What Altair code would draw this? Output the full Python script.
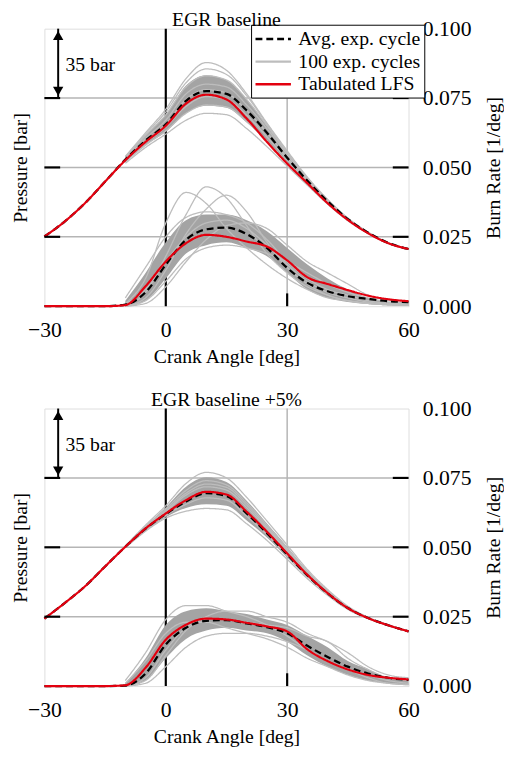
import altair as alt
import pandas as pd

SERIF = "Liberation Serif, Times New Roman, DejaVu Serif, serif"

# ---------------- data ----------------
ANGLE = [-30, -25, -20, -15, -10, -5, 0, 5, 10, 15, 20, 25, 30, 35, 40, 45, 50, 55, 60]
CYC_ANGLE = [-10, -5, 0, 5, 10, 15, 20, 25, 30, 35, 40, 45, 50, 55, 60]

TITLES = ["EGR baseline", "EGR baseline +5%"]
SERIES = ["Avg. exp. cycle", "100 exp. cycles", "Tabulated LFS"]
COLORS = ["#000000", "#bdbdbd", "#e3000f"]
Y_TICKS = [0.0, 0.025, 0.05, 0.075, 0.1]
X_TICKS = [-30, 0, 30, 60]
GRID_Y = [0.025, 0.05, 0.075]
GRID_X = [30]
ZERO_X = [0]
BAR_SPAN = [0.075, 0.100]          # 35 bar scale arrow
BAR_X = [-26.6]
BAR_LABEL = ["35 bar"]
BAR_LABEL_X = [-24.8]
BAR_LABEL_Y = [0.0870]

# --- EGR baseline ---
P1_LFS = [0.0251, 0.0305, 0.0371, 0.0449, 0.0526, 0.0592, 0.0650, 0.0730, 0.0762, 0.0745, 0.0676, 0.0592, 0.0514, 0.0443, 0.0371, 0.0311, 0.0263, 0.0227, 0.0206]
P1_AVG = [0.0251, 0.0305, 0.0371, 0.0449, 0.0528, 0.0597, 0.0655, 0.0740, 0.0775, 0.0765, 0.0705, 0.0625, 0.0535, 0.0452, 0.0378, 0.0314, 0.0265, 0.0228, 0.0206]
P1_CYCLES = [
    [0.0540, 0.0625, 0.0710, 0.0820, 0.0878, 0.0850, 0.0765, 0.0660, 0.0560, 0.0465, 0.0385, 0.0318, 0.0267, 0.0229, 0.0207],
    [0.0538, 0.0620, 0.0700, 0.0805, 0.0855, 0.0835, 0.0758, 0.0656, 0.0556, 0.0462, 0.0383, 0.0317, 0.0266, 0.0229, 0.0207],
    [0.0535, 0.0615, 0.0690, 0.0790, 0.0830, 0.0815, 0.0745, 0.0650, 0.0552, 0.0460, 0.0382, 0.0316, 0.0266, 0.0229, 0.0207],
    [0.0530, 0.0605, 0.0670, 0.0765, 0.0800, 0.0790, 0.0725, 0.0640, 0.0545, 0.0456, 0.0380, 0.0315, 0.0265, 0.0228, 0.0206],
    [0.0526, 0.0595, 0.0655, 0.0745, 0.0780, 0.0768, 0.0705, 0.0625, 0.0535, 0.0452, 0.0377, 0.0313, 0.0264, 0.0228, 0.0206],
    [0.0523, 0.0588, 0.0645, 0.0720, 0.0755, 0.0745, 0.0688, 0.0610, 0.0528, 0.0448, 0.0374, 0.0312, 0.0264, 0.0227, 0.0206],
    [0.0520, 0.0580, 0.0632, 0.0695, 0.0725, 0.0718, 0.0665, 0.0595, 0.0518, 0.0443, 0.0371, 0.0310, 0.0263, 0.0227, 0.0205],
    [0.0515, 0.0572, 0.0620, 0.0670, 0.0695, 0.0690, 0.0640, 0.0575, 0.0505, 0.0436, 0.0368, 0.0308, 0.0262, 0.0226, 0.0205],
]
P1_CORE_LO = [0.0520, 0.0582, 0.0628, 0.0695, 0.0722, 0.0715, 0.0662, 0.0592, 0.0516, 0.0442, 0.0371, 0.0310, 0.0263, 0.0227, 0.0205]
P1_CORE_HI = [0.0535, 0.0615, 0.0690, 0.0795, 0.0832, 0.0815, 0.0745, 0.0650, 0.0552, 0.0460, 0.0382, 0.0316, 0.0266, 0.0229, 0.0207]

BR1_LFS = [0, 0, 0, 0, 0.0004, 0.0072, 0.0161, 0.0227, 0.0257, 0.0250, 0.0233, 0.0215, 0.0165, 0.0104, 0.0080, 0.0058, 0.0038, 0.0025, 0.0018]
BR1_AVG = [0, 0, 0, 0, 0.0006, 0.0050, 0.0150, 0.0239, 0.0277, 0.0283, 0.0260, 0.0210, 0.0138, 0.0084, 0.0054, 0.0036, 0.0026, 0.0018, 0.0015]
BR1_CYCLES = [
    [0.001, 0.010, 0.030, 0.041, 0.037, 0.028, 0.021, 0.015, 0.010, 0.006, 0.003, 0.002, 0.001, 0.0005, 0.0003],
    [0.000, 0.005, 0.018, 0.033, 0.043, 0.039, 0.029, 0.019, 0.012, 0.007, 0.004, 0.002, 0.001, 0.0005, 0.0003],
    [0.000, 0.003, 0.013, 0.026, 0.035, 0.040, 0.034, 0.023, 0.014, 0.008, 0.004, 0.002, 0.001, 0.0005, 0.0003],
    [0.003, 0.014, 0.025, 0.032, 0.034, 0.033, 0.030, 0.024, 0.016, 0.010, 0.006, 0.004, 0.002, 0.001, 0.0005],
    [0.000, 0.001, 0.007, 0.016, 0.024, 0.029, 0.030, 0.028, 0.022, 0.016, 0.012, 0.008, 0.004, 0.002, 0.001],
    [0.000, 0.002, 0.009, 0.017, 0.021, 0.022, 0.021, 0.019, 0.016, 0.012, 0.008, 0.005, 0.003, 0.0015, 0.0008],
    [0.001, 0.006, 0.016, 0.025, 0.030, 0.031, 0.028, 0.022, 0.015, 0.009, 0.005, 0.003, 0.0015, 0.0008, 0.0004],
]
BR1_CORE_LO = [0.000, 0.002, 0.010, 0.019, 0.022, 0.023, 0.021, 0.018, 0.012, 0.006, 0.003, 0.0015, 0.0008, 0.0004, 0.0002]
BR1_CORE_HI = [0.002, 0.012, 0.023, 0.031, 0.033, 0.033, 0.031, 0.027, 0.021, 0.015, 0.010, 0.006, 0.003, 0.0015, 0.0008]

# --- EGR baseline +5% ---
P2_LFS = [0.0243, 0.0299, 0.0359, 0.0431, 0.0502, 0.0568, 0.0622, 0.0670, 0.0700, 0.0690, 0.0628, 0.0556, 0.0478, 0.0401, 0.0335, 0.0281, 0.0245, 0.0219, 0.0197]
P2_AVG = [0.0243, 0.0299, 0.0359, 0.0431, 0.0502, 0.0567, 0.0620, 0.0665, 0.0695, 0.0685, 0.0622, 0.0551, 0.0474, 0.0399, 0.0334, 0.0281, 0.0245, 0.0219, 0.0197]
P2_CYCLES = [
    [0.0505, 0.0580, 0.0650, 0.0730, 0.0770, 0.0750, 0.0680, 0.0595, 0.0508, 0.0420, 0.0348, 0.0288, 0.0248, 0.0221, 0.0199],
    [0.0504, 0.0575, 0.0638, 0.0705, 0.0740, 0.0725, 0.0660, 0.0580, 0.0497, 0.0413, 0.0343, 0.0286, 0.0247, 0.0220, 0.0198],
    [0.0503, 0.0572, 0.0632, 0.0695, 0.0728, 0.0716, 0.0652, 0.0573, 0.0492, 0.0410, 0.0340, 0.0284, 0.0246, 0.0219, 0.0197],
    [0.0502, 0.0570, 0.0628, 0.0688, 0.0718, 0.0706, 0.0643, 0.0567, 0.0487, 0.0406, 0.0338, 0.0283, 0.0246, 0.0219, 0.0197],
    [0.0500, 0.0564, 0.0615, 0.0655, 0.0678, 0.0670, 0.0612, 0.0545, 0.0470, 0.0396, 0.0332, 0.0279, 0.0244, 0.0218, 0.0196],
    [0.0498, 0.0558, 0.0605, 0.0630, 0.0640, 0.0635, 0.0585, 0.0525, 0.0457, 0.0387, 0.0327, 0.0276, 0.0243, 0.0217, 0.0196],
]
P2_CORE_LO = [0.0499, 0.0560, 0.0608, 0.0642, 0.0655, 0.0650, 0.0597, 0.0535, 0.0463, 0.0392, 0.0330, 0.0278, 0.0244, 0.0218, 0.0196]
P2_CORE_HI = [0.0504, 0.0577, 0.0644, 0.0718, 0.0752, 0.0735, 0.0668, 0.0586, 0.0502, 0.0416, 0.0345, 0.0287, 0.0247, 0.0220, 0.0198]

BR2_LFS = [0, 0, 0, 0, 0.0003, 0.0066, 0.0167, 0.0221, 0.0243, 0.0240, 0.0228, 0.0215, 0.0197, 0.0132, 0.0090, 0.0060, 0.0040, 0.0030, 0.0024]
BR2_AVG = [0, 0, 0, 0, 0.0002, 0.0045, 0.0150, 0.0210, 0.0235, 0.0238, 0.0226, 0.0212, 0.0190, 0.0145, 0.0105, 0.0070, 0.0045, 0.0030, 0.0022]
BR2_CYCLES = [
    [0.002, 0.012, 0.024, 0.029, 0.029, 0.027, 0.025, 0.022, 0.018, 0.013, 0.009, 0.006, 0.004, 0.002, 0.001],
    [0.000, 0.002, 0.011, 0.020, 0.025, 0.027, 0.027, 0.025, 0.023, 0.019, 0.016, 0.012, 0.007, 0.004, 0.003],
    [0.000, 0.001, 0.007, 0.014, 0.018, 0.019, 0.019, 0.018, 0.016, 0.013, 0.009, 0.006, 0.003, 0.001, 0.0005],
    [0.001, 0.009, 0.019, 0.023, 0.023, 0.021, 0.019, 0.017, 0.014, 0.010, 0.007, 0.004, 0.002, 0.001, 0.0005],
    [0.000, 0.003, 0.013, 0.021, 0.024, 0.024, 0.023, 0.022, 0.021, 0.018, 0.016, 0.010, 0.006, 0.003, 0.002],
]
BR2_CORE_LO = [0.000, 0.002, 0.010, 0.017, 0.020, 0.021, 0.020, 0.019, 0.016, 0.011, 0.007, 0.004, 0.002, 0.001, 0.0005]
BR2_CORE_HI = [0.001, 0.010, 0.022, 0.027, 0.028, 0.027, 0.026, 0.024, 0.022, 0.018, 0.014, 0.009, 0.006, 0.003, 0.002]

PANELS = [
    dict(title=TITLES[0], p_lfs=P1_LFS, p_avg=P1_AVG, p_cyc=P1_CYCLES, p_lo=P1_CORE_LO, p_hi=P1_CORE_HI,
         b_lfs=BR1_LFS, b_avg=BR1_AVG, b_cyc=BR1_CYCLES, b_lo=BR1_CORE_LO, b_hi=BR1_CORE_HI),
    dict(title=TITLES[1], p_lfs=P2_LFS, p_avg=P2_AVG, p_cyc=P2_CYCLES, p_lo=P2_CORE_LO, p_hi=P2_CORE_HI,
         b_lfs=BR2_LFS, b_avg=BR2_AVG, b_cyc=BR2_CYCLES, b_lo=BR2_CORE_LO, b_hi=BR2_CORE_HI),
]

# ---------------- chart ----------------
W, H = 370, 282
TICK = 16
GRID_COLOR = "#b5b5b5"
CORE_COLOR = "#a4a4a4"

xscale = alt.Scale(domain=[-30, 60], nice=False, zero=False)
yscale = alt.Scale(domain=[0, 0.1], nice=False, zero=False)

xaxis = alt.Axis(values=X_TICKS, title="Crank Angle [deg]", ticks=False, domain=False, grid=False,
                 labelFlush=False, labelFont=SERIF, labelFontSize=22, labelPadding=14, labelColor="black",
                 titleFont=SERIF, titleFontSize=20, titleFontWeight="normal", titleColor="black",
                 titlePadding=6)
left_axis = alt.Axis(orient="left", title="Pressure [bar]", labels=False, ticks=False, domain=False,
                     grid=False, titleAngle=270, titleFont=SERIF, titleFontSize=20,
                     titleFontWeight="normal", titleColor="black", titlePadding=14)
right_axis = alt.Axis(orient="right", values=Y_TICKS, format=".3f", title="Burn Rate [1/deg]",
                      ticks=False, domain=False, grid=False, labelFlush=False, labelFont=SERIF,
                      labelFontSize=22, labelColor="black", labelPadding=14, titleAngle=270,
                      titleBaseline="top", titleFont=SERIF, titleFontSize=20, titleFontWeight="normal",
                      titleColor="black", titlePadding=13)


def X(field="angle"):
    return alt.X(f"{field}:Q", scale=xscale, axis=xaxis)


def panel(p, show_legend):
    rows, core = [], []
    for name, curves in (("P", p["p_cyc"]), ("B", p["b_cyc"])):
        for k, vals in enumerate(curves):
            for a, v in zip(CYC_ANGLE, vals):
                rows.append(dict(angle=a, value=v, series=SERIES[1], curve=f"{name}{k}"))
    for name, key in (("P", "p_avg"), ("B", "b_avg")):
        for a, v in zip(ANGLE, p[key]):
            rows.append(dict(angle=a, value=v, series=SERIES[0], curve=f"{name}avg"))
    for name, key in (("P", "p_lfs"), ("B", "b_lfs")):
        for a, v in zip(ANGLE, p[key]):
            rows.append(dict(angle=a, value=v, series=SERIES[2], curve=f"{name}lfs"))
    for name, lo, hi in (("P", p["p_lo"], p["p_hi"]), ("B", p["b_lo"], p["b_hi"])):
        for a, l, h in zip(CYC_ANGLE, lo, hi):
            core.append(dict(angle=a, lo=l, hi=h, q=name))
    df = pd.DataFrame(rows)
    core_df = pd.DataFrame(core)

    if show_legend:
        leg = alt.Legend(title=None, orient="none", legendX=210, legendY=-4, direction="vertical",
                         symbolType="M-1.8,0H1.8", symbolSize=400, symbolStrokeWidth=2.5,
                         symbolOffset=8, labelFont=SERIF, labelFontSize=20, labelColor="black",
                         labelOffset=14, strokeColor="black", fillColor="white", padding=3,
                         rowPadding=1, labelLimit=300)
    else:
        leg = None
    color = alt.Color("series:N", scale=alt.Scale(domain=SERIES, range=COLORS), legend=leg)
    dash = alt.StrokeDash("series:N", scale=alt.Scale(domain=SERIES, range=[[7, 4], [1, 0], [1, 0]]),
                          legend=leg)

    hgrid = alt.Chart(pd.DataFrame({"y": GRID_Y})).mark_rule(color=GRID_COLOR, strokeWidth=1.5).encode(
        y=alt.Y("y:Q", scale=yscale, axis=left_axis))
    vgrid = alt.Chart(pd.DataFrame({"x": GRID_X})).mark_rule(color=GRID_COLOR, strokeWidth=1.5).encode(
        x=X("x"))
    zero = alt.Chart(pd.DataFrame({"x": ZERO_X})).mark_rule(color="black", strokeWidth=2.2).encode(
        x=X("x"))
    core_area = alt.Chart(core_df).mark_area(color=CORE_COLOR, interpolate="monotone", opacity=1).encode(
        x=X(), y=alt.Y("lo:Q", scale=yscale, axis=None), y2="hi:Q", detail="q:N")
    gray = alt.Chart(df[df.series == SERIES[1]]).mark_line(strokeWidth=1.3, interpolate="monotone").encode(
        x=X(), y=alt.Y("value:Q", scale=yscale, axis=right_axis), color=color, strokeDash=dash,
        detail="curve:N")
    avg = alt.Chart(df[df.series == SERIES[0]]).mark_line(strokeWidth=2.3, interpolate="monotone").encode(
        x=X(), y=alt.Y("value:Q", scale=yscale, axis=None), color=color, strokeDash=dash,
        detail="curve:N")
    lfs = alt.Chart(df[df.series == SERIES[2]]).mark_line(strokeWidth=2.2, interpolate="monotone").encode(
        x=X(), y=alt.Y("value:Q", scale=yscale, axis=None), color=color, strokeDash=dash,
        detail="curve:N")

    tick_df = pd.DataFrame({"y": GRID_Y})
    lticks = alt.Chart(tick_df).mark_rule(color="black", strokeWidth=2.2).encode(
        y=alt.Y("y:Q", scale=yscale, axis=None), x=alt.value(0), x2=alt.value(TICK))
    rticks = alt.Chart(tick_df).mark_rule(color="black", strokeWidth=2.2).encode(
        y=alt.Y("y:Q", scale=yscale, axis=None), x=alt.value(W - TICK), x2=alt.value(W))
    bticks = alt.Chart(pd.DataFrame({"x": GRID_X})).mark_rule(color="black", strokeWidth=2.2).encode(
        x=X("x"), y=alt.value(H - 13), y2=alt.value(H))

    bar_df = pd.DataFrame({"x": BAR_X, "lo": [BAR_SPAN[0]], "hi": [BAR_SPAN[1]]})
    bar = alt.Chart(bar_df).mark_rule(color="black", strokeWidth=2).encode(
        x=X("x"), y=alt.Y("lo:Q", scale=yscale, axis=None), y2="hi:Q")
    head_up = alt.Chart(bar_df).mark_point(shape="triangle-up", filled=True, size=110, color="black",
                                           opacity=1, yOffset=7).encode(
        x=X("x"), y=alt.Y("hi:Q", scale=yscale, axis=None))
    head_dn = alt.Chart(bar_df).mark_point(shape="triangle-down", filled=True, size=110, color="black",
                                           opacity=1, yOffset=-7).encode(
        x=X("x"), y=alt.Y("lo:Q", scale=yscale, axis=None))
    label = alt.Chart(pd.DataFrame({"x": BAR_LABEL_X, "y": BAR_LABEL_Y, "t": BAR_LABEL})).mark_text(
        align="left", baseline="middle", font=SERIF, fontSize=20, color="black").encode(
        x=X("x"), y=alt.Y("y:Q", scale=yscale, axis=None), text="t:N")

    return alt.layer(
        hgrid, vgrid, zero, core_area, gray, avg, lfs, lticks, rticks, bticks, bar, head_up, head_dn, label
    ).resolve_axis(y="independent").properties(
        width=W, height=H,
        title=alt.TitleParams(p["title"], font=SERIF, fontSize=20, fontWeight="normal", color="black",
                              anchor="middle", frame="group", offset=0, dy=12))


chart = alt.vconcat(panel(PANELS[0], True), panel(PANELS[1], False), spacing=22).resolve_scale(
    color="independent", strokeDash="independent"
).properties(
    padding={"left": 2, "top": -5, "right": 0, "bottom": 0}
).configure_view(stroke="black", strokeWidth=2.2).configure(background="white")

chart.save("out.html", embed_options={"renderer": "svg", "actions": False})
